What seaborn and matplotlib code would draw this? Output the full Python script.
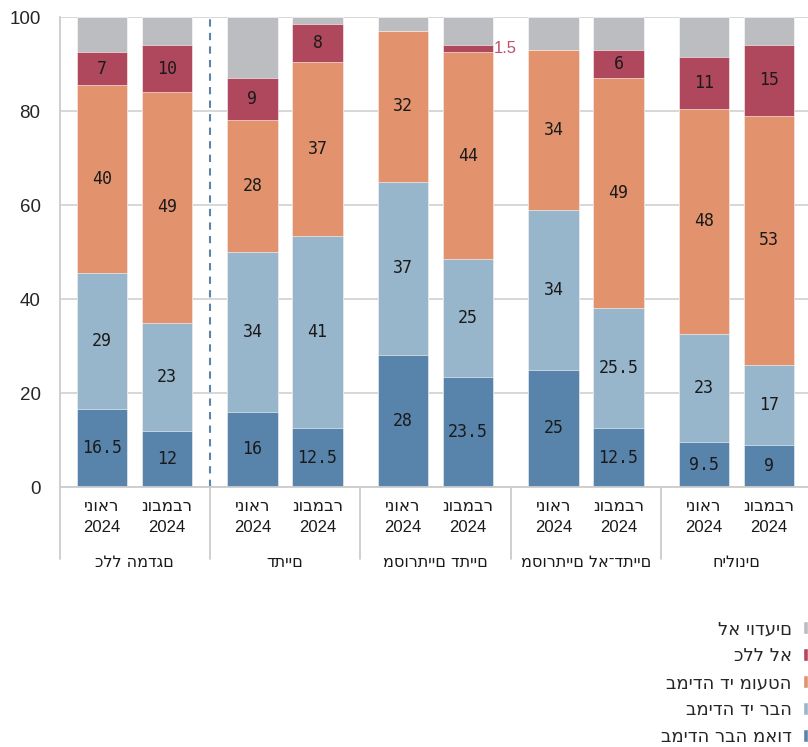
import pandas as pd
import matplotlib.pyplot as plt
import matplotlib.transforms as mtransforms
from matplotlib.patches import Patch
import seaborn as sns

# נתונים (אחוזים), מסודרים משמאל לימין
groups = ["כלל המדגם", "דתיים", "מסורתיים דתיים", "מסורתיים לא־דתיים", "חילונים"]
months = ["ינואר", "נובמבר"]
year = "2024"

very_much = [16.5, 12, 16, 12.5, 28, 23.5, 25, 12.5, 9.5, 9]
fairly_much = [29, 23, 34, 41, 37, 25, 34, 25.5, 23, 17]
fairly_little = [40, 49, 28, 37, 32, 44, 34, 49, 48, 53]
not_at_all = [7, 10, 9, 8, 0, 1.5, 0, 6, 11, 15]
dont_know = [7.5, 6, 13, 1.5, 3, 6, 7, 7, 8.5, 6]

series_names = ["במידה רבה מאוד", "במידה די רבה", "במידה די מועטה", "כלל לא", "לא יודעים"]
colors = ["#5883ab", "#98b6cb", "#e2936e", "#b0485d", "#bcbdc1"]
layers = [very_much, fairly_much, fairly_little, not_at_all, dont_know]

sns.set_theme(style="white")
plt.rcParams["font.family"] = ["Liberation Sans", "DejaVu Sans"]
heb_font = "DejaVu Sans"

n = len(very_much)
step = 2.315
pos = [g * step + i for g in range(len(groups)) for i in range(2)]

# cumulative tops for the stacked bars
df = pd.DataFrame({"pos": pos})
running = [0.0] * n
for k, vals in enumerate(layers):
    df[f"bottom{k}"] = running
    running = [a + b for a, b in zip(running, vals)]
    df[f"top{k}"] = running

fig = plt.figure(figsize=(8.08, 7.47), dpi=100)
ax = fig.add_axes([60 / 808, 260 / 747, 748 / 808, 470 / 747])

for k in reversed(range(len(layers))):
    sns.barplot(data=df, x="pos", y=f"top{k}", native_scale=True, color=colors[k],
                width=0.77, errorbar=None, saturation=1, edgecolor="white",
                linewidth=0.4, ax=ax)

# value labels
for k, vals in enumerate(layers[:4]):
    for i, v in enumerate(vals):
        if v == 0:
            continue
        mid = df[f"bottom{k}"][i] + v / 2
        if v < 2:
            ax.text(pos[i] + 0.77 / 2 + 0.01, mid, f"{v:g}", ha="left", va="center",
                    fontsize=12, color="#c0506b")
        else:
            ax.text(pos[i], mid, f"{v:g}", ha="center", va="center",
                    fontsize=12, family="DejaVu Sans Mono", color="#1a1a1a")

ax.set_ylim(0, 100)
ax.set_xlim(pos[0] - 0.646, pos[0] + 10.86)
ax.set_yticks([0, 20, 40, 60, 80, 100])
ax.set_yticklabels(["0", "20", "40", "60", "80", "100"], fontsize=13.5)
ax.yaxis.grid(True, color="#d4d4d4", linewidth=1.3)
ax.set_axisbelow(True)

ax.set_xticks(pos)
ax.set_xticklabels([""] * n)
ax.tick_params(axis="x", length=0)
ax.tick_params(axis="y", length=0, pad=14)
ax.set_xlabel("")
ax.set_ylabel("")

for side in ["top", "right"]:
    ax.spines[side].set_visible(False)
for side in ["left", "bottom"]:
    ax.spines[side].set_color("#cccccc")
    ax.spines[side].set_linewidth(1.3)

# dashed separator between full sample and subgroups
seps = [(pos[2 * g + 1] + pos[2 * g + 2]) / 2 for g in range(len(groups) - 1)]
ax.axvline(seps[0], color="#5b84ab", linestyle=(0, (3.5, 3)), linewidth=1.5)

# two-level category labels below the axis
trans = mtransforms.blended_transform_factory(ax.transData, ax.transAxes)
for i, x in enumerate(pos):
    ax.text(x, -0.051, months[i % 2], transform=trans, ha="center", va="baseline",
            fontsize=12, family=heb_font, color="#1a1a1a")
    ax.text(x, -0.096, year, transform=trans, ha="center", va="baseline",
            fontsize=12, color="#1a1a1a")
for x in [pos[0] - 0.646] + seps:
    ax.plot([x, x], [0, -0.153], transform=trans, color="#cccccc", linewidth=1.3,
            clip_on=False)
for g, name in enumerate(groups):
    ax.text((pos[2 * g] + pos[2 * g + 1]) / 2, -0.170, name, transform=trans,
            ha="center", va="baseline", fontsize=11.5, family=heb_font, color="#1a1a1a")

handles = [Patch(facecolor=colors[k], label=series_names[k]) for k in reversed(range(5))]
fig.legend(handles=handles, loc="upper right", bbox_to_anchor=(1.0, 1 - 620 / 747),
           frameon=False, markerfirst=False, handlelength=0.3, handleheight=0.75,
           handletextpad=0.6, labelspacing=0.5, borderaxespad=0, borderpad=0,
           prop={"family": heb_font, "size": 13})

fig.savefig("out.png", dpi=100)
